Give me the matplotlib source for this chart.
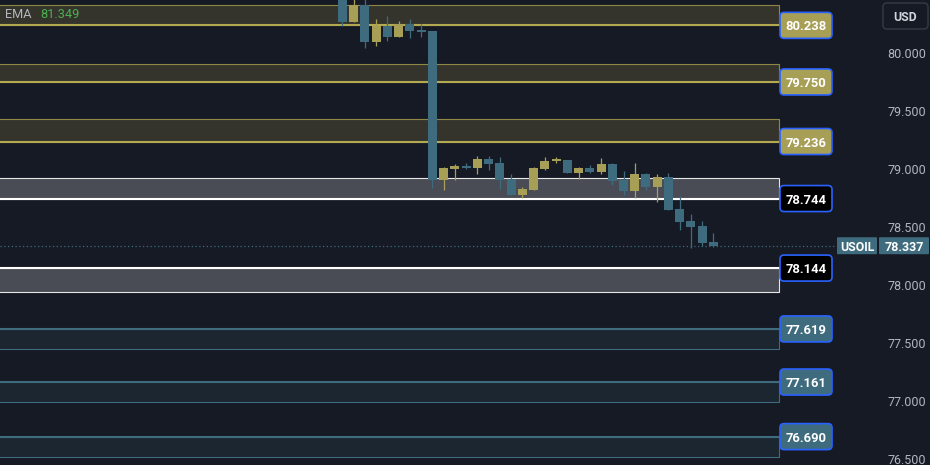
import matplotlib
matplotlib.use('Agg')
import matplotlib.pyplot as plt
from matplotlib.patches import Rectangle, FancyBboxPatch
from matplotlib.transforms import IdentityTransform, blended_transform_factory

plt.rcParams['font.family'] = ['Roboto', 'DejaVu Sans']

# candle data (oldest -> newest)
opens = [80.55, 80.267, 80.41, 80.095, 80.233, 80.138, 80.250, 80.198, 80.190, 78.905,
         79.000, 79.026, 79.009, 79.086, 79.052, 78.914, 78.776, 78.819, 79.000, 79.069,
         79.078, 78.966, 79.009, 78.974, 79.043, 78.905, 78.810, 78.957, 78.845, 78.931,
         78.655, 78.552, 78.509, 78.371]
highs = [80.62, 80.50, 80.52, 80.293, 80.319, 80.276, 80.293, 80.250, 80.190, 79.017,
         79.043, 79.052, 79.112, 79.112, 79.103, 78.957, 78.845, 79.017, 79.103, 79.103,
         79.078, 79.017, 79.034, 79.095, 79.052, 78.983, 79.052, 78.966, 78.957, 78.966,
         78.767, 78.612, 78.552, 78.448]
lows = [80.233, 80.267, 80.046, 80.060, 80.103, 80.138, 80.129, 80.138, 78.836, 78.819,
        78.905, 79.000, 78.957, 78.991, 78.828, 78.776, 78.750, 78.819, 78.991, 79.052,
        78.966, 78.914, 78.966, 78.957, 78.862, 78.776, 78.750, 78.819, 78.716, 78.647,
        78.474, 78.319, 78.336, 78.328]
closes = [80.267, 80.414, 80.095, 80.233, 80.138, 80.250, 80.190, 80.181, 78.905, 79.009,
          79.026, 79.009, 79.086, 79.043, 78.905, 78.776, 78.828, 79.009, 79.069, 79.078,
          78.966, 79.009, 78.974, 79.043, 78.897, 78.810, 78.957, 78.845, 78.931, 78.647,
          78.543, 78.500, 78.362, 78.337]

# zones: labelled level, opposite edge, kind
zone_levels = [80.238, 79.750, 79.236, 78.744, 78.144, 77.619, 77.161, 76.690]
zone_edges = [80.414, 79.905, 79.431, 78.922, 77.940, 77.448, 76.990, 76.517]
zone_kinds = ['res', 'res', 'res', 'mid', 'mid', 'sup', 'sup', 'sup']

yticks = [76.5, 77.0, 77.5, 78.0, 78.5, 79.0, 79.5, 80.0]
last_price = 78.337
symbol = 'USOIL'
ema_value = '81.349'

BG = '#161a25'
BULL = '#a89f57'
BEAR = '#3e6b7d'
styles = {
    'res': dict(fill='#35342c', edge='#8f8845', line='#b3a951', label='#a89f57', text='white'),
    'mid': dict(fill='#4a4c55', edge='#e6e6e6', line='#ffffff', label='#000000', text='white'),
    'sup': dict(fill='#1b2630', edge='#3e6b7d', line='#3e6b7d', label='#3e6b7d', text='white'),
}

W, H = 930, 465
fig = plt.figure(figsize=(W / 100, H / 100), dpi=100, facecolor=BG)
ax = fig.add_axes([0, 0, 878 / W, 1])
ax.set_facecolor(BG)
ax.set_xlim(-30.47, 47.64)
ax.set_ylim(76.445, 80.457)
for s in ax.spines.values():
    s.set_visible(False)
ax.set_xticks([])

ax.yaxis.tick_right()
ax.set_yticks(yticks)
ax.set_yticklabels([f'{t:.3f}' for t in yticks])
ax.tick_params(axis='y', length=0, pad=7, labelcolor='#b2b5be', labelsize=9)

trans = blended_transform_factory(ax.transAxes, ax.transData)
zright = 779 / 878
for lvl, edge, kind in zip(zone_levels, zone_edges, zone_kinds):
    st = styles[kind]
    lo, hi = min(lvl, edge), max(lvl, edge)
    ax.add_patch(Rectangle((-0.01, lo), zright + 0.01, hi - lo, transform=trans,
                           fc=st['fill'], ec=st['edge'], lw=0.8, zorder=1))
    ax.plot([-0.01, zright], [lvl, lvl], transform=trans, color=st['line'], lw=1.5, zorder=2)

# candles
x = list(range(len(opens)))
for i in x:
    o, h, l, c = opens[i], highs[i], lows[i], closes[i]
    col = BULL if c >= o else BEAR
    ax.vlines(i, l, h, color=col, lw=0.9, zorder=3)
    ax.bar(i, max(abs(c - o), 0.012), bottom=min(o, c), width=0.8, color=col, zorder=4)

# last price line
ax.axhline(last_price, xmin=0, xmax=836 / 878, color=BEAR, lw=0.9, ls=(0, (1, 2)), zorder=2)

fig.canvas.draw()
ident = IdentityTransform()


def ypix(v):
    return ax.transData.transform((0, v))[1]


def box(x0, y0, w, h, fc, ec, lw, r):
    p = FancyBboxPatch((x0, y0), w, h, boxstyle=f'round,pad=0,rounding_size={r}',
                       transform=ident, fc=fc, ec=ec, lw=lw)
    fig.add_artist(p)


for lvl, kind in zip(zone_levels, zone_kinds):
    st = styles[kind]
    yc = ypix(lvl)
    box(780, yc - 13, 52, 26, st['label'], '#2962ff', 1.2, 4)
    fig.text(806, yc, f'{lvl:.3f}', transform=ident, ha='center', va='center_baseline',
             color=st['text'], fontsize=9.4, fontweight='bold')

# price label
yc = ypix(last_price)
box(837, yc - 8.5, 40, 17, BEAR, BEAR, 0, 1)
box(879, yc - 8.5, 50, 17, BEAR, BEAR, 0, 1)
fig.text(857, yc, symbol, transform=ident, ha='center', va='center_baseline',
         color='white', fontsize=8.8, fontweight='bold')
fig.text(904, yc, f'{last_price:.3f}', transform=ident, ha='center', va='center_baseline',
         color='white', fontsize=9, fontweight='bold')

# currency button
box(883, H - 29, 45, 26, BG, '#363a45', 1.0, 4)
fig.text(905.5, H - 16, 'USD', transform=ident, ha='center', va='center_baseline',
         color='#d1d4dc', fontsize=8.8, fontweight='bold')

# EMA legend
fig.text(5, H - 13, 'EMA', transform=ident, ha='left', va='center_baseline', color='#b2b5be', fontsize=9.2)
fig.text(40, H - 13, ema_value, transform=ident, ha='left', va='center_baseline', color='#4caf50', fontsize=9.2)

fig.savefig('out.png', dpi=100, facecolor=BG)
